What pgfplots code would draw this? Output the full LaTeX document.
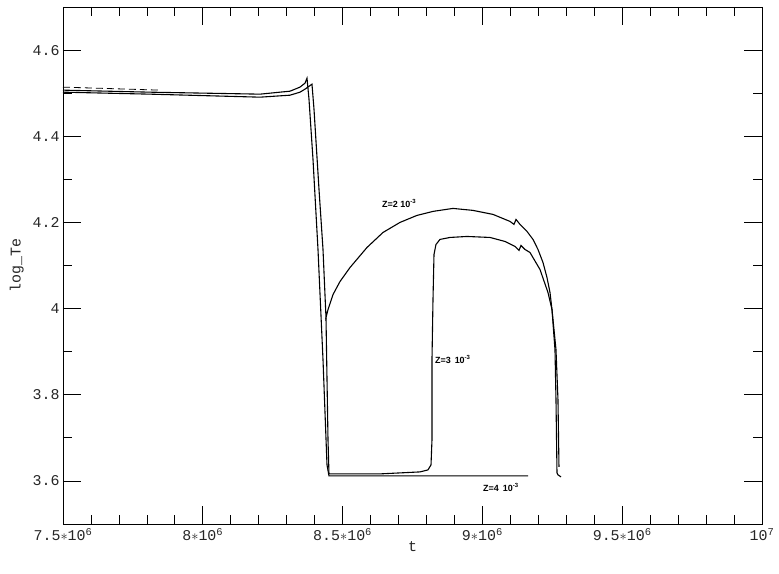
\documentclass[border=0pt]{standalone}
\usepackage{pgfplots}
\pgfplotsset{compat=1.18}
\usepackage{fontspec}
\setmainfont{Liberation Sans}
\newfontfamily\tickfont{Liberation Mono}
\begin{document}
\begin{tikzpicture}
\begin{axis}[
  scale only axis,
  width=699bp, height=517bp,
  xmin=7.5e6, xmax=1e7, ymin=3.5, ymax=4.7,
  axis line style={line width=0.9pt},
  xtick={7.5e6,8e6,8.5e6,9e6,9.5e6,1e7},
  xticklabels={7.5$\ast$10\textsuperscript{6},8$\ast$10\textsuperscript{6},8.5$\ast$10\textsuperscript{6},9$\ast$10\textsuperscript{6},9.5$\ast$10\textsuperscript{6},10\textsuperscript{7}},
  ytick={3.6,3.8,4,4.2,4.4,4.6},
  yticklabels={3.6,3.8,4,4.2,4.4,4.6},
  minor x tick num=4, minor y tick num=1,
  tick align=inside,
  major tick length=18bp, minor tick length=9bp,
  every tick/.style={black, line width=0.7pt},
  scaled x ticks=false,
  ticklabel style={font=\tickfont\fontsize{15}{17}\selectfont, text=black!85},
  xticklabel style={yshift=-1bp},
  xlabel={t}, ylabel={log\_Te},
  label style={font=\tickfont\fontsize{15}{17}\selectfont, text=black!85},
  xlabel style={yshift=6bp},
  ylabel style={yshift=2bp},
  clip=false,
]
% dashed start
\addplot[black, line width=0.8pt, dashed, dash pattern=on 7bp off 4bp] coordinates {
(7.5000e6,4.5140) (7.8470e6,4.5070)
};
% Z=4 (first peak)
\addplot[black, line width=1.1pt] coordinates {
(7.5000e6,4.5070) (7.8112e6,4.5023) (8.2046e6,4.4977) (8.3119e6,4.5046) (8.3476e6,4.5140) (8.3655e6,4.5232) (8.3727e6,4.5349)
(8.3798e6,4.4860) (8.3941e6,4.3465) (8.4120e6,4.1372) (8.4299e6,3.8814) (8.4442e6,3.6372) (8.4513e6,3.6116)
(8.6338e6,3.6116) (8.8841e6,3.6116) (9.1631e6,3.6116)
};
% Z=2 (second peak, rising arc)
\addplot[black, line width=1.1pt] coordinates {
(7.5000e6,4.5023) (7.8112e6,4.4977) (8.2046e6,4.4907) (8.3119e6,4.4953) (8.3476e6,4.5023) (8.3655e6,4.5093) (8.3905e6,4.5209)
(8.3977e6,4.4628) (8.4156e6,4.2768) (8.4299e6,4.1372) (8.4406e6,3.9791)
(8.4478e6,3.9977) (8.4657e6,4.0326) (8.4907e6,4.0628) (8.5265e6,4.0953) (8.5873e6,4.1419) (8.6445e6,4.1767) (8.7053e6,4.2000)
(8.7661e6,4.2163) (8.8233e6,4.2256) (8.8948e6,4.2325) (8.9664e6,4.2279) (9.0379e6,4.2186) (9.0987e6,4.2023) (9.1130e6,4.1954)
(9.1202e6,4.2070) (9.1345e6,4.1954) (9.1595e6,4.1791) (9.1810e6,4.1605) (9.1988e6,4.1372) (9.2167e6,4.1070) (9.2310e6,4.0721)
(9.2418e6,4.0372) (9.2489e6,3.9977) (9.2632e6,3.9046) (9.2703e6,3.7884) (9.2739e6,3.6325)
};
% Z=3
\addplot[black, line width=1.1pt] coordinates {
(8.4406e6,3.9791) (8.4478e6,3.6954) (8.4513e6,3.6163) (8.4907e6,3.6163) (8.6338e6,3.6163) (8.7768e6,3.6209) (8.8054e6,3.6256)
(8.8162e6,3.6372) (8.8197e6,3.6954) (8.8197e6,3.8814) (8.8233e6,4.0209) (8.8269e6,4.1256) (8.8340e6,4.1488) (8.8483e6,4.1605)
(8.8841e6,4.1651) (8.9449e6,4.1674) (9.0272e6,4.1651) (9.0808e6,4.1558) (9.1166e6,4.1442) (9.1309e6,4.1349) (9.1380e6,4.1465)
(9.1523e6,4.1372) (9.1702e6,4.1302) (9.2060e6,4.0907) (9.2346e6,4.0372) (9.2489e6,3.9977) (9.2596e6,3.9046) (9.2632e6,3.7884)
(9.2668e6,3.6186) (9.2703e6,3.6140) (9.2811e6,3.6093)
};
\node[anchor=west, font=\bfseries\fontsize{9}{10}\selectfont, inner sep=0pt] at (axis cs:8.641e6,4.244) {Z=2 10\textsuperscript{-3}};
\node[anchor=west, font=\bfseries\fontsize{9}{10}\selectfont, inner sep=0pt] at (axis cs:8.830e6,3.881) {Z=3\, 10\textsuperscript{-3}};
\node[anchor=west, font=\bfseries\fontsize{9}{10}\selectfont, inner sep=0pt] at (axis cs:9.002e6,3.584) {Z=4\, 10\textsuperscript{-3}};
\end{axis}
\pgfresetboundingbox
\path[use as bounding box] (current axis.south west) ++(-63bp,-50bp) rectangle ([xshift=17bp,yshift=7bp]current axis.north east);
\end{tikzpicture}
\end{document}
